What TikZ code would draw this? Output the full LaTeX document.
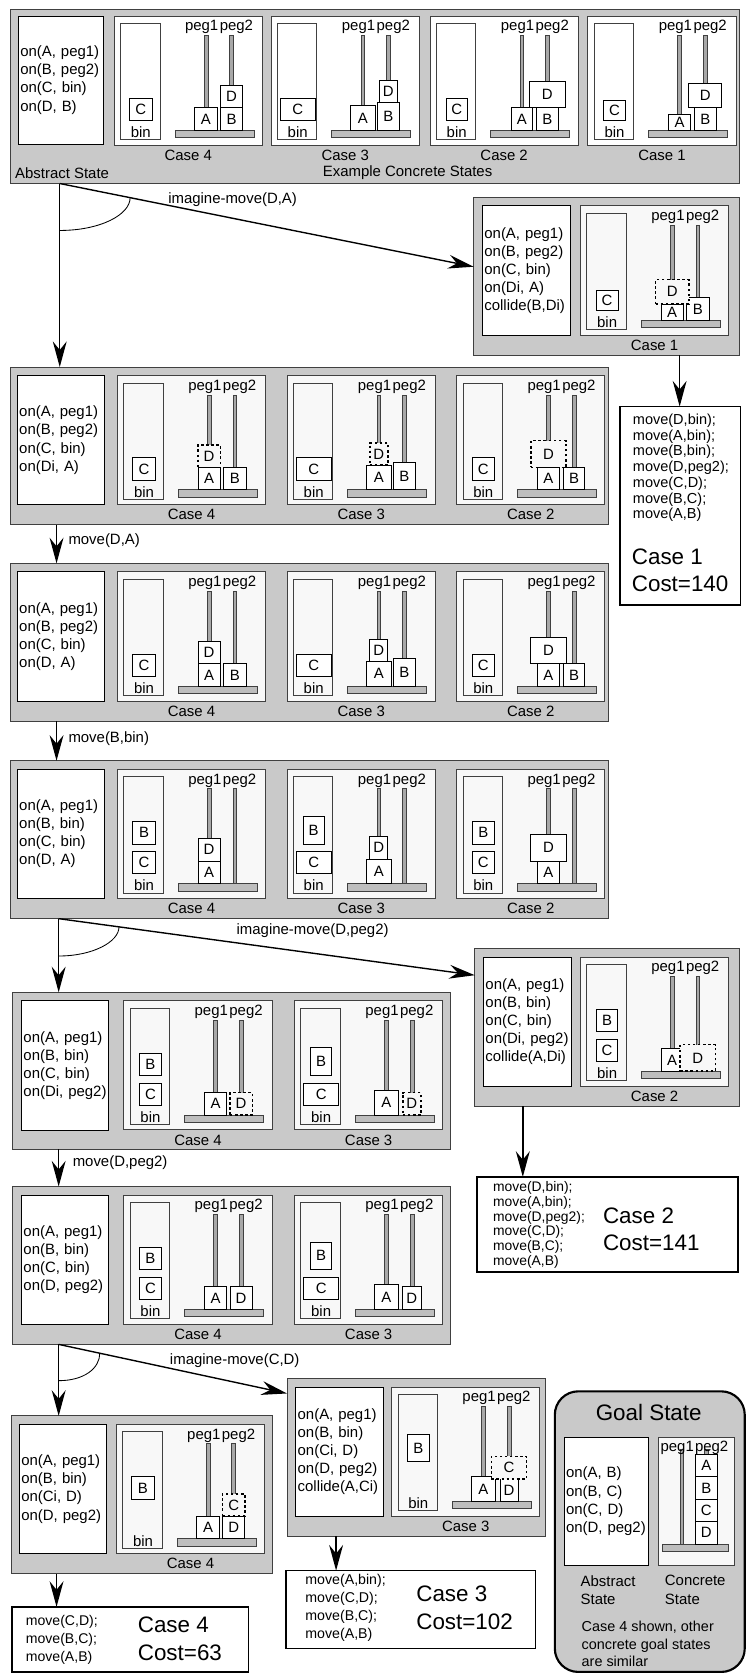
\documentclass[tikz,border=0pt]{standalone}
\usepackage{fontspec}
\setmainfont{Liberation Sans}
\usepackage{xcolor}
\definecolor{cPanel}{HTML}{C9C9C9}
\definecolor{cCase}{HTML}{F8F8F8}
\definecolor{cEdge}{HTML}{404040}
\definecolor{cPeg}{HTML}{A8A8A8}
\definecolor{cBase}{HTML}{BEBEBE}
\usetikzlibrary{arrows.meta,calc}

\newcommand{\fsN}{\fontsize{14pt}{17pt}\selectfont}
\newcommand{\fsS}{\fontsize{13.6pt}{14.8pt}\selectfont}
\newcommand{\fsL}{\fontsize{21pt}{25pt}\selectfont}

\tikzset{
  panel/.style={draw=cEdge,fill=cPanel,line width=0.9pt,anchor=north west,
    inner sep=0pt,outer sep=0pt},
  abs-box/.style={draw=black,fill=white,line width=0.8pt,anchor=north west,
    inner xsep=2pt,inner ysep=0pt,outer sep=0pt,text width=#1,align=left,
    font=\fsN,minimum height=121pt},
  case-box/.style={draw=cEdge,fill=cCase,line width=0.9pt,anchor=north west,
    inner sep=0pt,outer sep=0pt,minimum width=139pt,minimum height=121pt},
  bin-box/.style={draw=cEdge,line width=0.8pt},
  peg/.style={draw=cEdge,fill=cPeg,line width=0.5pt},
  base/.style={draw=cEdge,fill=cBase,line width=0.7pt},
  txt/.style={font=\fsN,inner sep=0pt},
  blk/.style={draw=black,fill=white,line width=0.7pt,anchor=south,
    inner sep=0pt,outer sep=0pt,font=\fsN},
  blk-i/.style={blk,fill=cCase,line width=1.5pt,dash pattern=on 2.4pt off 2.4pt},
  res-box/.style={draw=black,fill=white,line width=1.6pt,anchor=north west,
    inner sep=0pt,outer sep=0pt},
  plan/.style={anchor=west,align=left,font=\fsS,inner sep=0pt},
  cost/.style={anchor=west,align=left,font=\fsL,inner sep=0pt},
  arrow/.style={-{Stealth[length=24pt,width=13pt,inset=8pt]},line width=1.3pt},
  choice/.style={line width=0.8pt},
  % block sizes of the concrete cases
  A4/.style={minimum width=21pt,minimum height=21pt},
  B4/.style={minimum width=21pt,minimum height=21pt},
  C4/.style={minimum width=21pt,minimum height=21pt},
  D4/.style={minimum width=21pt,minimum height=21pt},
  A3/.style={minimum width=23pt,minimum height=23pt},
  B3/.style={minimum width=20pt,minimum height=26pt},
  C3/.style={minimum width=33pt,minimum height=21pt},
  D3/.style={minimum width=17pt,minimum height=21pt},
  A2/.style={minimum width=20pt,minimum height=21pt},
  B2/.style={minimum width=20pt,minimum height=21pt},
  C2/.style={minimum width=20pt,minimum height=21pt},
  D2/.style={minimum width=33pt,minimum height=25pt},
  A1/.style={minimum width=21pt,minimum height=15pt},
  B1/.style={minimum width=21pt,minimum height=21pt},
  C1/.style={minimum width=21pt,minimum height=19pt},
  D1/.style={minimum width=31pt,minimum height=23pt},
}

% one concrete state: name, top left corner, label, blocks
\newcommand{\concrete}[4]{%
  \begin{scope}[shift={(#2)}]
    \node[case-box] (#1) at (0,0) {};
    \draw[bin-box] (6,7) rectangle (43,116);
    \node[txt] (#1-bin) at (25,109) {bin};
    \draw[peg] (84.2,18) rectangle (87.8,107);
    \draw[peg] (108.2,18) rectangle (111.8,107);
    \draw[base] (57,107) rectangle (131,114);
    \node[txt,anchor=east] (#1-p1) at (97.8,10.5) {peg1};
    \node[txt,anchor=west] (#1-p2) at (98.8,10.5) {peg2};
    #4
    \node[txt] (#1-case) at (69.5,130.5) {#3};
  \end{scope}}

% block layouts: name prefix, case, style of D
\newcommand{\onB}[3]{%
  \node[blk,C#2] (#1C) at (25,98) {C};
  \node[blk,A#2] (#1A) at (86,107) {A};
  \node[blk,B#2] (#1B) at (110,107) {B};
  \node[#3,D#2] (#1D) at (#1B.north) {D};}
\newcommand{\onA}[3]{%
  \node[blk,C#2] (#1C) at (25,98) {C};
  \node[blk,A#2] (#1A) at (86,107) {A};
  \node[blk,B#2] (#1B) at (110,107) {B};
  \node[#3,D#2] (#1D) at (#1A.north) {D};}
\newcommand{\binB}[2]{%
  \node[blk,C#2] (#1C) at (25,98) {C};
  \node[blk,B#2] (#1B) at (25,70) {B};
  \node[blk,A#2] (#1A) at (86,107) {A};
  \node[blk,D#2] (#1D) at (#1A.north) {D};}
\newcommand{\onPeg}[3]{%
  \node[blk,C#2] (#1C) at (25,98) {C};
  \node[blk,B#2] (#1B) at (25,70) {B};
  \node[blk,A#2] (#1A) at (86,107) {A};
  \node[#3,D#2] (#1D) at (110,107) {D};}
\newcommand{\onD}[2]{%
  \node[blk,B#2] (#1B) at (25,70) {B};
  \node[blk,A#2] (#1A) at (86,107) {A};
  \node[blk,D#2] (#1D) at (110,107) {D};
  \node[blk-i,C#2] (#1C) at (#1D.north) {C};}

\begin{document}
\begin{tikzpicture}[x=1pt,y=-1pt]
  \useasboundingbox (0,0) rectangle (703,1568);

  % start: abstract state and its concrete cases
  \node[panel,minimum width=683pt,minimum height=163pt] (p0) at (10,9) {};
  \node[abs-box=76pt,minimum height=120pt] (p0-abs) at (17,15)
    {on(A, peg1)\\on(B, peg2)\\on(C, bin)\\on(D, B)};
  \begin{scope}[case-box/.append style={fill=white}]
    \concrete{p0c4}{107,15}{Case 4}{\onB{p0c4}{4}{blk}}
    \concrete{p0c3}{254,15}{Case 3}{\onB{p0c3}{3}{blk}}
    \concrete{p0c2}{403,15}{Case 2}{\onB{p0c2}{2}{blk}}
    \concrete{p0c1}{551,15}{Case 1}{\onB{p0c1}{1}{blk}}
  \end{scope}
  \node[txt,anchor=west] (p0-t1) at (14,162) {Abstract State};
  \node[txt] (p0-t2) at (382,162) {Example Concrete States};

  % imagine-move(D,A), case 1 collides
  \node[panel,minimum width=249pt,minimum height=148pt] (p1) at (444,185) {};
  \node[abs-box=79pt] (p1-abs) at (452,193)
    {on(A, peg1)\\on(B, peg2)\\on(C, bin)\\on(Di, A)\\collide(B,Di)};
  \concrete{p1c1}{544,193}{Case 1}{\onA{p1c1}{1}{blk-i}}
  \node[res-box,minimum width=113pt,minimum height=186pt] (r1) at (581,381) {};
  \node[plan] (r1-plan) at (593,438.5) {move(D,bin);\\move(A,bin);\\move(B,bin);\\%
    move(D,peg2);\\move(C,D);\\move(B,C);\\move(A,B)};
  \node[cost] (r1-cost) at (592,534.5) {Case 1\\Cost=140};

  \node[panel,minimum width=560pt,minimum height=148pt] (p2) at (10,344) {};
  \node[abs-box=78pt] (p2-abs) at (16,352)
    {on(A, peg1)\\on(B, peg2)\\on(C, bin)\\on(Di, A)};
  \concrete{p2c4}{110,352}{Case 4}{\onA{p2c4}{4}{blk-i}}
  \concrete{p2c3}{269,352}{Case 3}{\onA{p2c3}{3}{blk-i}}
  \concrete{p2c2}{428,352}{Case 2}{\onA{p2c2}{2}{blk-i}}

  % move(D,A)
  \node[panel,minimum width=560pt,minimum height=148pt] (p3) at (10,528) {};
  \node[abs-box=78pt] (p3-abs) at (16,536)
    {on(A, peg1)\\on(B, peg2)\\on(C, bin)\\on(D, A)};
  \concrete{p3c4}{110,536}{Case 4}{\onA{p3c4}{4}{blk}}
  \concrete{p3c3}{269,536}{Case 3}{\onA{p3c3}{3}{blk}}
  \concrete{p3c2}{428,536}{Case 2}{\onA{p3c2}{2}{blk}}

  % move(B,bin)
  \node[panel,minimum width=560pt,minimum height=148pt] (p4) at (10,713) {};
  \node[abs-box=78pt] (p4-abs) at (16,721)
    {on(A, peg1)\\on(B, bin)\\on(C, bin)\\on(D, A)};
  \concrete{p4c4}{110,721}{Case 4}{\binB{p4c4}{4}}
  \concrete{p4c3}{269,721}{Case 3}{\binB{p4c3}{3}}
  \concrete{p4c2}{428,721}{Case 2}{\binB{p4c2}{2}}

  % imagine-move(D,peg2)
  \node[panel,minimum width=410pt,minimum height=147pt] (p5) at (12,930) {};
  \node[abs-box=78pt] (p5-abs) at (20,938)
    {on(A, peg1)\\on(B, bin)\\on(C, bin)\\on(Di, peg2)};
  \concrete{p5c4}{116,938}{Case 4}{\onPeg{p5c4}{4}{blk-i}}
  \concrete{p5c3}{276,938}{Case 3}{\onPeg{p5c3}{3}{blk-i}}

  \node[panel,minimum width=248pt,minimum height=148pt] (p6) at (445,889) {};
  \node[abs-box=79pt] (p6-abs) at (453,897)
    {on(A, peg1)\\on(B, bin)\\on(C, bin)\\on(Di, peg2)\\collide(A,Di)};
  \concrete{p6c2}{544,897}{Case 2}{\onPeg{p6c2}{2}{blk-i}}
  \node[res-box,minimum width=245pt,minimum height=89pt] (r2) at (447,1103) {};
  \node[plan,font=\fontsize{13pt}{14pt}\selectfont] (r2-plan) at (462,1148)
    {move(D,bin);\\move(A,bin);\\move(D,peg2);\\move(C,D);\\move(B,C);\\move(A,B)};
  \node[cost] (r2-cost) at (565,1152) {Case 2\\Cost=141};

  % move(D,peg2)
  \node[panel,minimum width=410pt,minimum height=148pt] (p7) at (12,1112) {};
  \node[abs-box=78pt] (p7-abs) at (20,1120)
    {on(A, peg1)\\on(B, bin)\\on(C, bin)\\on(D, peg2)};
  \concrete{p7c4}{116,1120}{Case 4}{\onPeg{p7c4}{4}{blk}}
  \concrete{p7c3}{276,1120}{Case 3}{\onPeg{p7c3}{3}{blk}}

  % imagine-move(C,D)
  \node[panel,minimum width=244pt,minimum height=148pt] (p8) at (11,1327) {};
  \node[abs-box=78pt] (p8-abs) at (18,1335)
    {on(A, peg1)\\on(B, bin)\\on(Ci, D)\\on(D, peg2)};
  \concrete{p8c4}{109,1335}{Case 4}{\onD{p8c4}{4}}
  \node[res-box,minimum width=222pt,minimum height=61pt] (r4) at (11,1506) {};
  \node[plan,font=\fontsize{13.2pt}{17pt}\selectfont] (r4-plan) at (24,1537)
    {move(C,D);\\move(B,C);\\move(A,B)};
  \node[cost,font=\fontsize{21pt}{26pt}\selectfont] (r4-cost) at (129,1536) {Case 4\\Cost=63};

  \node[panel,minimum width=242pt,minimum height=148pt] (p9) at (269,1292) {};
  \node[abs-box=78pt] (p9-abs) at (277,1300)
    {on(A, peg1)\\on(B, bin)\\on(Ci, D)\\on(D, peg2)\\collide(A,Ci)};
  \concrete{p9c3}{367,1300}{Case 3}{\onD{p9c3}{3}}
  \node[res-box,minimum width=234pt,minimum height=73pt] (r3) at (268,1472) {};
  \node[plan,font=\fontsize{13.3pt}{16.7pt}\selectfont] (r3-plan) at (286,1507)
    {move(A,bin);\\move(C,D);\\move(B,C);\\move(A,B)};
  \node[cost,font=\fontsize{21pt}{26pt}\selectfont] (r3-cost) at (390,1507) {Case 3\\Cost=102};

  % goal state
  \node[draw=black,fill=cPanel,line width=2pt,rounded corners=22pt,anchor=north west,
    minimum width=178pt,minimum height=263pt,inner sep=0pt] (goal) at (519,1303) {};
  \node[txt,font=\fsL] (goal-title) at (608,1324) {Goal State};
  \node[abs-box=76pt,inner xsep=1.5pt,minimum height=120pt] (goal-abs) at (529,1347)
    {on(A, B)\\on(B, C)\\on(C, D)\\on(D, peg2)};
  \node[case-box,minimum width=71pt,minimum height=120pt] (goal-c) at (617,1347) {};
  \draw[peg] (637.2,1358) rectangle (640.8,1447);
  \draw[peg] (660.2,1358) rectangle (663.8,1447);
  \draw[base] (621,1447) rectangle (683,1454);
  \node[txt,anchor=east] (goal-p1) at (650.5,1357) {peg1};
  \node[txt,anchor=west] (goal-p2) at (651.2,1357) {peg2};
  \node[blk,D4] (goal-D) at (662,1447) {D};
  \node[blk,C4] (goal-C) at (goal-D.north) {C};
  \node[blk,B4] (goal-B) at (goal-C.north) {B};
  \node[blk,A4] (goal-A) at (goal-B.north) {A};
  \node[txt,anchor=west,align=left] (goal-al) at (544,1490) {Abstract\\State};
  \node[txt,anchor=west,align=left] (goal-cl) at (623,1490) {Concrete\\State};
  \node[txt,anchor=west,align=left,font=\fontsize{13.5pt}{16.5pt}\selectfont] (goal-note)
    at (545,1541) {Case 4 shown, other\\concrete goal states\\are similar};

  % connectors
  \coordinate (s0) at ([xshift=46pt]p0.south west);
  \coordinate (e1) at ([yshift=9pt]p1.west);
  \draw[arrow] (s0) -- ([xshift=46pt]p2.north west);
  \draw[arrow] (s0) -- (e1);
  \draw[choice] ([yshift=-44pt]s0) .. controls +(38,0) and +(0,16) .. ($(s0)!0.17!(e1)$);
  \node[txt] (l-da) at (218,187) {imagine-move(D,A)};
  \draw[arrow] ([xshift=193pt]p1.south west) -- ([xshift=56pt]r1.north west);

  \draw[arrow] ([xshift=43pt]p2.south west) -- ([xshift=43pt]p3.north west);
  \node[txt,anchor=west] (l-mda) at (64,507) {move(D,A)};
  \draw[arrow] ([xshift=43pt]p3.south west) -- ([xshift=43pt]p4.north west);
  \node[txt,anchor=west] (l-mbb) at (64,692) {move(B,bin)};

  \coordinate (s4) at ([xshift=45pt]p4.south west);
  \coordinate (e6) at ([yshift=-25pt]p6.north west);
  \draw[arrow] (s4) -- ([xshift=43pt]p5.north west);
  \draw[arrow] (s4) -- (e6);
  \draw[choice] ([yshift=-35pt]s4) .. controls +(32,0) and +(0,14) .. ($(s4)!0.145!(e6)$);
  \node[txt] (l-dp) at (293,872) {imagine-move(D,peg2)};
  \draw[arrow] ([xshift=45pt]p6.south west) -- ([xshift=43pt]r2.north west);

  \draw[arrow] ([xshift=43pt]p5.south west) -- ([xshift=43pt]p7.north west);
  \node[txt,anchor=west] (l-mdp) at (68,1090) {move(D,peg2)};

  \coordinate (s7) at ([xshift=43pt]p7.south west);
  \coordinate (e9) at ([yshift=-14pt]p9.north west);
  \draw[arrow] (s7) -- ([xshift=44pt]p8.north west);
  \draw[arrow] (s7) -- (e9);
  \draw[choice] ([yshift=-34pt]s7) .. controls +(24,0) and +(0,14) .. ($(s7)!0.18!(e9)$);
  \node[txt] (l-cd) at (220,1275) {imagine-move(C,D)};
  \draw[arrow] ([xshift=42pt]p8.south west) -- ([xshift=42pt]r4.north west);
  \draw[arrow] ([xshift=46pt]p9.south west) -- ([xshift=47pt]r3.north west);
\end{tikzpicture}
\end{document}
